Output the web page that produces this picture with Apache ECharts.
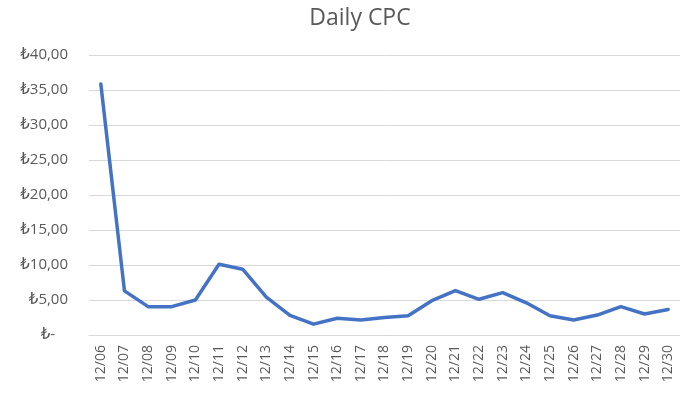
<!DOCTYPE html>
<html>
<head>
<meta charset="utf-8">
<script src="https://cdn.jsdelivr.net/npm/echarts@6/dist/echarts.min.js"></script>
<style>html,body{margin:0;padding:0;background:#fff;}#c{width:680px;height:395px;}</style>
</head>
<body>
<div id="c"></div>
<script>
var categories = ['12/06','12/07','12/08','12/09','12/10','12/11','12/12','12/13','12/14','12/15','12/16','12/17','12/18','12/19','12/20','12/21','12/22','12/23','12/24','12/25','12/26','12/27','12/28','12/29','12/30'];
var cpcValues = [35.85, 6.3, 4.05, 4.05, 5.0, 10.1, 9.4, 5.4, 2.8, 1.55, 2.4, 2.15, 2.5, 2.75, 4.9, 6.35, 5.1, 6.05, 4.6, 2.75, 2.15, 2.85, 4.05, 3.0, 3.65];
var yTicks = [0, 5, 10, 15, 20, 25, 30, 35, 40];

var chart = echarts.init(document.getElementById('c'), null, {renderer: 'canvas'});
var font = '"Open Sans", "DejaVu Sans", sans-serif';
chart.setOption({
  animation: false,
  title: {
    text: 'Daily CPC',
    left: 355,
    textAlign: 'center',
    top: 2,
    textStyle: {fontFamily: font, fontSize: 23, fontWeight: 'normal', color: '#595959'}
  },
  grid: {left: 89, top: 55, width: 597.5, height: 280, containLabel: false},
  xAxis: {
    type: 'category',
    data: categories,
    boundaryGap: true,
    axisLine: {show: true, lineStyle: {color: '#d9d9d9', width: 1}},
    axisTick: {show: false},
    axisLabel: {rotate: 90, interval: 0, margin: 10, fontFamily: font, fontSize: 14, color: '#595959'}
  },
  yAxis: {
    type: 'value',
    min: yTicks[0],
    max: yTicks[yTicks.length - 1],
    interval: 5,
    axisLine: {show: false},
    axisTick: {show: false},
    splitLine: {lineStyle: {color: '#d9d9d9', width: 1}},
    axisLabel: {
      margin: 21,
      fontFamily: font, fontSize: 15, color: '#595959',
      formatter: function (v) {
        if (v === 0) return '{z|₺-}';
        return '₺' + v.toFixed(2).replace('.', ',');
      },
      rich: {z: {fontFamily: font, fontSize: 15, color: '#595959', padding: [0, 13, 0, 0]}}
    }
  },
  series: [{
    type: 'line',
    data: cpcValues,
    symbol: 'none',
    lineStyle: {color: '#4472C4', width: 3.5, join: 'round', cap: 'round'}
  }]
});
</script>
</body>
</html>
